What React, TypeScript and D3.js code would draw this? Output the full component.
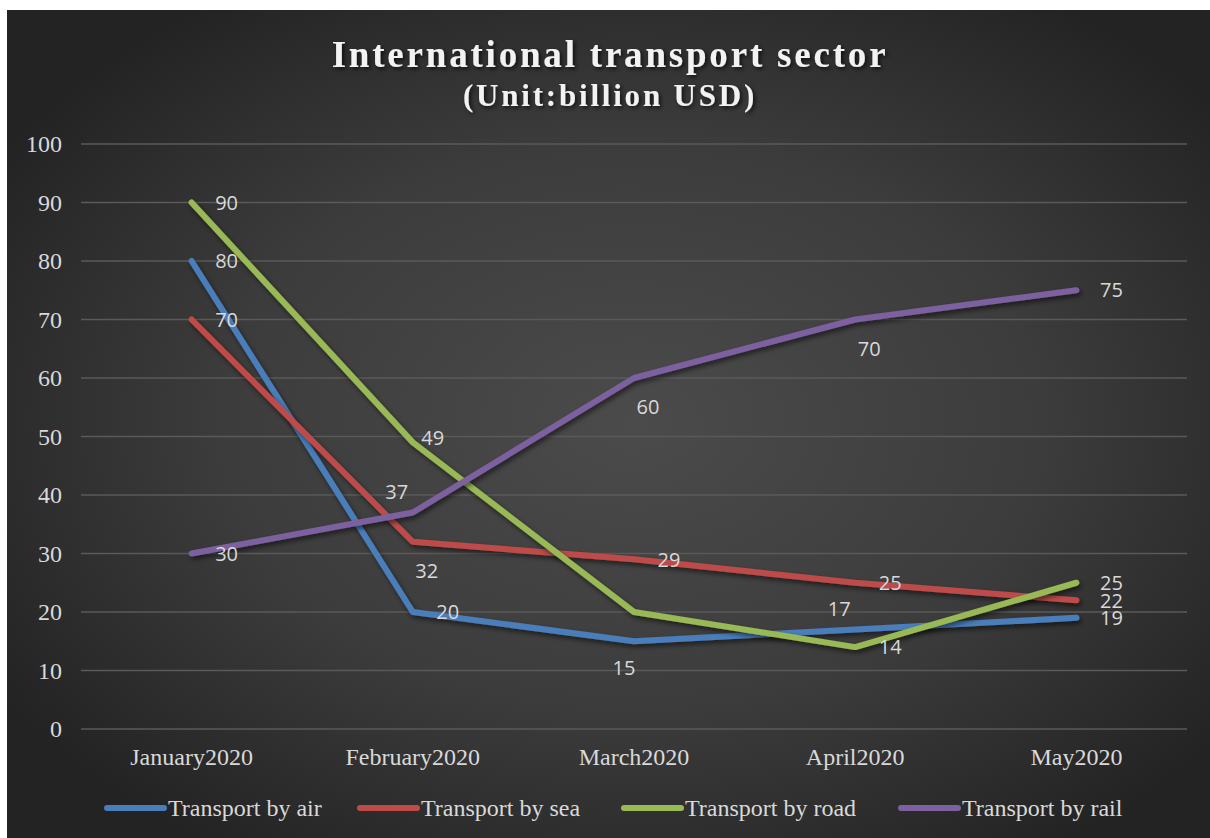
import React from "react";
import * as d3 from "d3";

type TSeries = {
  name: string;
  color: string;
  values: number[];
  labelPos: string[];
};

const categories = ["January2020", "February2020", "March2020", "April2020", "May2020"];

const airValues = [80, 20, 15, 17, 19];
const seaValues = [70, 32, 29, 25, 22];
const roadValues = [90, 49, 20, 14, 25];
const railValues = [30, 37, 60, 70, 75];

const yTicks = [0, 10, 20, 30, 40, 50, 60, 70, 80, 90, 100];

// where Excel put each data label (none = hidden)
const airLabels = ["right", "right", "belowLeft", "above", "right"];
const seaLabels = ["right", "below", "right", "right", "right"];
const roadLabels = ["right", "upRight", "none", "right", "right"];
const railLabels = ["right", "above", "below", "below", "right"];

const series: TSeries[] = [
  { name: "Transport by air", color: "#4a7ebb", values: airValues, labelPos: airLabels },
  { name: "Transport by sea", color: "#be4b48", values: seaValues, labelPos: seaLabels },
  { name: "Transport by road", color: "#98b954", values: roadValues, labelPos: roadLabels },
  { name: "Transport by rail", color: "#7d60a0", values: railValues, labelPos: railLabels },
];

const width = 1210;
const height = 838;
const plot = { left: 81, right: 1187, top: 144, bottom: 729 };

const labelOffset: Record<string, [number, number]> = {
  right: [35, 0],
  below: [14, 29],
  belowLeft: [-10, 27],
  above: [-16, -21],
  upRight: [20, -5],
};

const x = d3
  .scaleBand<string>()
  .domain(categories)
  .range([plot.left, plot.right]);

const y = d3.scaleLinear().domain([0, 100]).range([plot.bottom, plot.top]);

const line = d3
  .line<number>()
  .x((_, i) => (x(categories[i]) ?? 0) + x.bandwidth() / 2)
  .y((d) => y(d));

const legendX = [107, 360, 624, 901];

const serif = "'Liberation Serif', 'Times New Roman', serif";
const sans = "'Open Sans', 'Noto Sans', sans-serif";

const App = () => {
  return (
    <svg
      width={width}
      height={height}
      style={{ position: "absolute", left: 0, top: 0, display: "block" }}
    >
      <defs>
        <radialGradient id="bg" cx="52%" cy="50%" r="62%">
          <stop offset="0%" stopColor="#4b4b4b" />
          <stop offset="55%" stopColor="#3c3c3c" />
          <stop offset="100%" stopColor="#232323" />
        </radialGradient>
        <filter id="shadow" x="-10%" y="-10%" width="120%" height="120%">
          <feDropShadow dx="2" dy="3" stdDeviation="2.5" floodColor="#000" floodOpacity="0.55" />
        </filter>
        <filter id="tshadow" x="-10%" y="-30%" width="120%" height="160%">
          <feDropShadow dx="2" dy="2" stdDeviation="2" floodColor="#000" floodOpacity="0.7" />
        </filter>
      </defs>
      <rect x={7} y={10} width={width - 7} height={height - 10} fill="url(#bg)" />

      <g filter="url(#tshadow)" fill="#f2f2f2" fontFamily={serif} fontWeight="bold" textAnchor="middle">
        <text x={610} y={67} fontSize={37} letterSpacing={2.8}>
          International transport sector
        </text>
        <text x={610} y={106} fontSize={31} letterSpacing={2.8}>
          (Unit:billion USD)
        </text>
      </g>

      {yTicks.map((t) => (
        <g key={t}>
          <line x1={plot.left} x2={plot.right} y1={y(t)} y2={y(t)} stroke="#5a5a5a" strokeWidth={1.3} />
          <text
            x={62}
            y={y(t)}
            dy="0.34em"
            textAnchor="end"
            fill="#d9d9d9"
            fontFamily={serif}
            fontSize={24}
          >
            {t}
          </text>
        </g>
      ))}

      {categories.map((c) => (
        <text
          key={c}
          x={(x(c) ?? 0) + x.bandwidth() / 2}
          y={765}
          textAnchor="middle"
          fill="#d9d9d9"
          fontFamily={serif}
          fontSize={24}
        >
          {c}
        </text>
      ))}

      {series.map((s) => (
        <path
          key={s.name}
          d={line(s.values) || ""}
          fill="none"
          stroke={s.color}
          strokeWidth={6}
          strokeLinecap="round"
          strokeLinejoin="round"
          filter="url(#shadow)"
        />
      ))}

      {series.map((s) =>
        s.values.map((v, i) => {
          const pos = s.labelPos[i];
          if (pos === "none") return null;
          const [dx, dy] = labelOffset[pos];
          const cx = (x(categories[i]) ?? 0) + x.bandwidth() / 2;
          return (
            <text
              key={s.name + i}
              x={cx + dx}
              y={y(v) + dy}
              dy="0.36em"
              textAnchor="middle"
              fill="#d9d9d9"
              fontFamily={sans}
              fontSize={20}
            >
              {v}
            </text>
          );
        })
      )}

      {series.map((s, i) => (
        <g key={s.name} transform={`translate(${legendX[i]}, 808)`}>
          <line x1={0} x2={57} y1={0} y2={0} stroke={s.color} strokeWidth={6} strokeLinecap="round" />
          <text x={61} y={0} dy="0.33em" fill="#d9d9d9" fontFamily={serif} fontSize={24}>
            {s.name}
          </text>
        </g>
      ))}
    </svg>
  );
};

export default App;
